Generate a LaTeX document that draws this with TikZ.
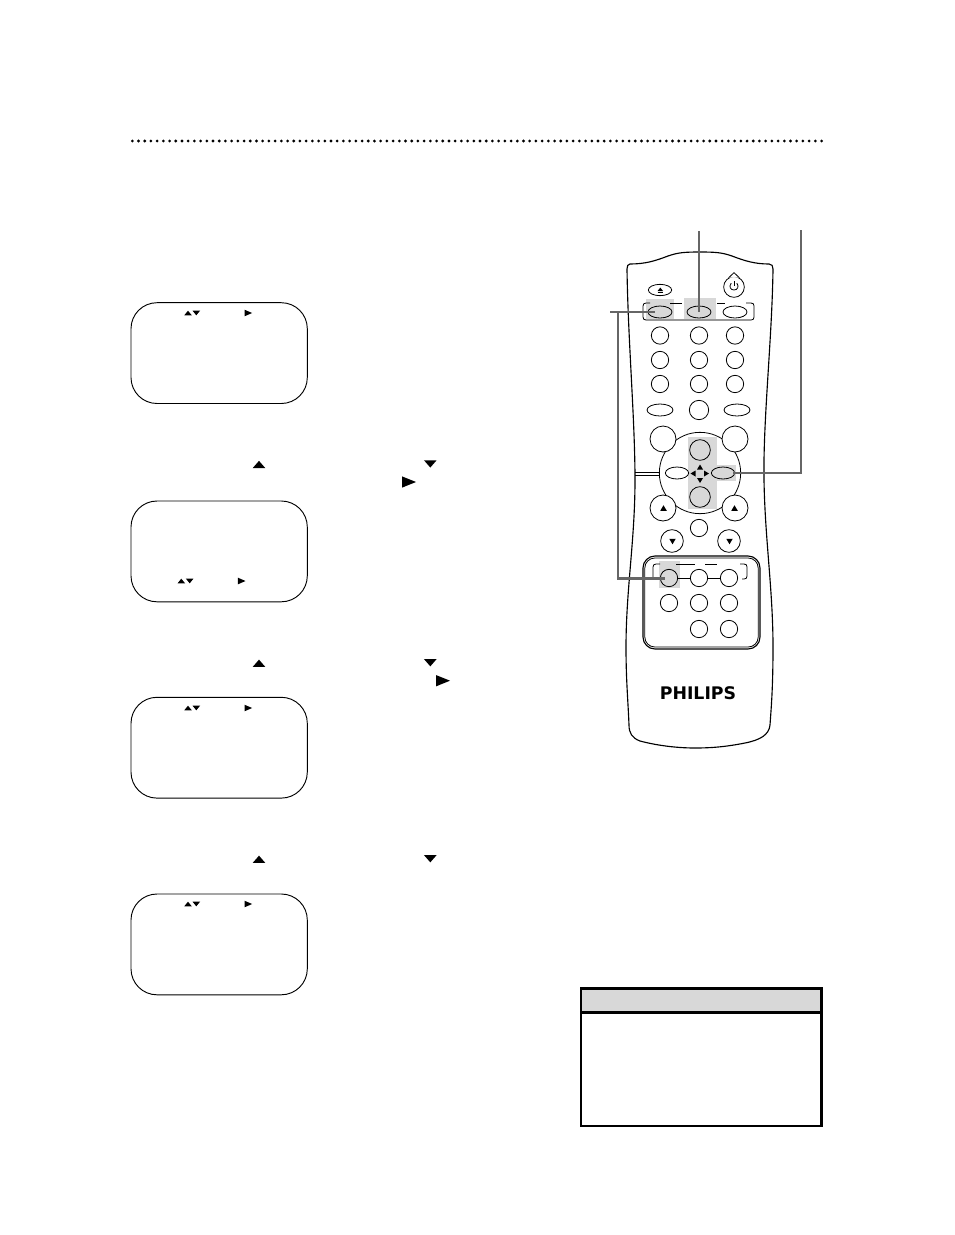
\documentclass[tikz,border=0pt]{standalone}
\usepackage{fontspec}
\usepackage{tikz}
\usetikzlibrary{shapes.geometric}
\definecolor{hilite}{HTML}{D8D8D8}
\definecolor{calloutgray}{HTML}{666666}
\newfontfamily\brandfont{DejaVu Sans}
\tikzset{
    screenbox/.style = {
        draw=black,
        line width=0.7pt,
        rounded corners=19.5pt
    },
    roundbtn/.style = {
        circle,
        draw=black,
        line width=0.6pt,
        inner sep=0pt,
        minimum size=13pt
    },
    bigbtn/.style = {
        roundbtn,
        fill=white,
        minimum size=19.5pt
    },
    midbtn/.style = {
        roundbtn,
        fill=white,
        minimum size=17pt
    },
    navbtn/.style = {
        roundbtn,
        minimum size=15.5pt
    },
    ovalbtn/.style = {
        ellipse,
        draw=black,
        line width=0.6pt,
        inner sep=0pt,
        minimum width=17.5pt,
        minimum height=9pt
    },
    remoteline/.style = {
        draw=black,
        line width=0.85pt
    },
    thinline/.style = {
        draw=black,
        line width=0.6pt
    },
    callout/.style = {
        draw=calloutgray,
        line width=2.2pt
    }
}
\newcommand{\uptri}[4]{\fill ({#1-#3/2},{#2+#4/2}) -- ({#1+#3/2},{#2+#4/2}) -- (#1,{#2-#4/2}) -- cycle;}
\newcommand{\downtri}[4]{\fill ({#1-#3/2},{#2-#4/2}) -- ({#1+#3/2},{#2-#4/2}) -- (#1,{#2+#4/2}) -- cycle;}
\newcommand{\righttri}[4]{\fill ({#1-#3/2},{#2-#4/2}) -- ({#1-#3/2},{#2+#4/2}) -- ({#1+#3/2},#2) -- cycle;}
\newcommand{\lefttri}[4]{\fill ({#1+#3/2},{#2-#4/2}) -- ({#1+#3/2},{#2+#4/2}) -- ({#1-#3/2},#2) -- cycle;}
\begin{document}
\begin{tikzpicture}[x=0.75pt,y=-0.75pt]
    \useasboundingbox (0,0) rectangle (954,1235);
    % heading rule
    \draw[line width=2.3pt, line cap=round, dash pattern=on 0pt off 4.657pt] (132.3,141) -- (822.5,141);

    % on-screen menus
    \foreach \scrtop in {302.7, 501, 697.3, 894} {
        \draw[screenbox] (131,\scrtop) rectangle (307.3,\scrtop+100.8);
    }
    \foreach \triy in {313, 708, 904} {
        \uptri{188}{\triy}{7.5}{4.6}
        \downtri{196.3}{\triy}{7.5}{4.6}
        \righttri{248.3}{\triy}{7.6}{6.6}
    }
    \uptri{181.3}{581}{7.5}{4.6}
    \downtri{189.7}{581}{7.5}{4.6}
    \righttri{241.7}{581}{7.6}{6.6}

    % arrows in the running text
    \foreach \triy in {464.5, 663.3, 859.3} {
        \uptri{259}{\triy}{12.7}{7.3}
        \downtri{430.3}{\triy-0.6}{12.7}{7.3}
    }
    \righttri{409}{482}{14}{11.3}
    \righttri{443}{680.7}{14}{11.3}

    % remote body
    \draw[remoteline, fill=white] (630,264) .. controls (645,264) and (655,261) .. (668,256)
        .. controls (678,252.5) and (685,252) .. (700,252)
        .. controls (715,252) and (722,252.5) .. (732,256)
        .. controls (745,261) and (755,264) .. (769,264)
        .. controls (772,264) and (773,266) .. (773,269)
        .. controls (772,340) and (763,420) .. (764,480)
        .. controls (765,540) and (773,590) .. (773,647)
        .. controls (773,690) and (771,710) .. (770,725)
        .. controls (769,735) and (760,740) .. (745,743)
        .. controls (725,747) and (710,748) .. (695,748)
        .. controls (675,748) and (655,745) .. (640,741)
        .. controls (632,738) and (629,733) .. (629,725)
        .. controls (628,700) and (626,680) .. (626,647)
        .. controls (626,590) and (635,540) .. (635,480)
        .. controls (635,420) and (628,340) .. (627,269)
        .. controls (627,266) and (628,264) .. (630,264) -- cycle;

    % highlights
    \fill[hilite] (646,299) rectangle (674,320);
    \fill[hilite] (684,298) rectangle (716,320);

    % eject and power
    \node[ovalbtn, minimum height=8.5pt] (ejectbtn) at (660,290) {};
    \uptri{660.3}{289.3}{5.5}{3.5}
    \draw[line width=0.7pt] (657.5,292.3) -- (663,292.3);
    \node[midbtn, minimum size=15.5pt] (powerbtn) at (734,287) {};
    \filldraw[fill=white, thinline] (powerbtn.60) -- (734,272.7) -- (powerbtn.120);
    \draw[thinline] (731.2,283.2) .. controls (728.5,286.5) and (730.5,290) .. (734,290)
        .. controls (737.5,290) and (739.5,286.5) .. (736.8,283.2);
    \draw[thinline] (734,281) -- (734,286);

    % top row bracket
    \draw[thinline] (650,303) -- (646,303) .. controls (644,303) and (643,304) .. (643,306)
        -- (643,317) .. controls (643,319) and (644,320) .. (646,320) -- (751,320)
        .. controls (753,320) and (754,319) .. (754,317) -- (754,306)
        .. controls (754,304) and (753,303) .. (751,303) -- (746,303);
    \draw[thinline] (670,303) -- (682,303);
    \draw[thinline] (717,303) -- (725,303);
    \draw[line width=0.9pt, hilite!70!black] (646,320) -- (751,320);
    \node[ovalbtn, minimum width=18pt] (menubtn) at (660,312) {};
    \node[ovalbtn, minimum width=18pt] (statusbtn) at (699,312) {};
    \node[ovalbtn, minimum width=18pt] (clearbtn) at (735,312) {};

    % number keys
    \foreach \rowy/\rowname in {335.5/a, 360/b, 384/c} {
        \foreach \colx/\colname in {660/l, 699/m, 735/r} {
            \node[roundbtn] (num\rowname\colname) at (\colx,\rowy) {};
        }
    }
    \node[ovalbtn, minimum width=19.5pt] (speedbtn) at (660,410) {};
    \node[roundbtn, minimum size=14.5pt] (zerobtn) at (699,410) {};
    \node[ovalbtn, minimum width=19.5pt] (altbtn) at (737,410) {};

    % navigation ring
    \draw[thinline] (635,472) -- (660,472);
    \draw[thinline] (635,475) -- (660,475);
    \draw[thinline] (740,472) -- (765,472);
    \node[circle, draw=black, line width=0.6pt, fill=white, minimum size=61pt, inner sep=0pt] (navring) at (700,473) {};
    \fill[hilite] (688,437) rectangle (717,509);
    \fill[hilite] (711,465) rectangle (736,480.5);
    \node[navbtn] (upbtn) at (700,450) {};
    \node[navbtn] (downbtn) at (700,497) {};
    \node[ovalbtn] (leftbtn) at (677,473) {};
    \node[ovalbtn] (rightbtn) at (723,473) {};
    \uptri{700}{467}{6}{5}
    \downtri{700}{480.5}{6}{5}
    \lefttri{693}{473.5}{5}{6}
    \righttri{706.5}{473.5}{5}{6}
    \node[bigbtn] (playbtn) at (663,439) {};
    \node[bigbtn] (stopbtn) at (735,439) {};
    \node[bigbtn] (chupbtn) at (663,508) {};
    \node[bigbtn] (volupbtn) at (735,508) {};
    \uptri{663.5}{508}{6.5}{5.5}
    \uptri{734.5}{508}{6.5}{5.5}
    \node[roundbtn] (mutebtn) at (699,528) {};
    \node[midbtn] (chdownbtn) at (672,541) {};
    \node[midbtn] (voldownbtn) at (729,541) {};
    \downtri{672.5}{541.5}{6.5}{5.5}
    \downtri{729.5}{541.5}{6.5}{5.5}

    % lower panel
    \draw[remoteline, rounded corners=9pt] (643,556) rectangle (760,649);
    \draw[thinline, rounded corners=7.5pt] (644.8,558) rectangle (758.2,647);
    \fill[hilite] (659,561) rectangle (680,588);
    \draw[thinline] (660,564) -- (656,564) .. controls (654,564) and (653,565) .. (653,567) -- (653,578);
    \draw[thinline] (676,564) -- (695,564);
    \draw[thinline] (705,564) -- (717,564);
    \draw[thinline] (740,564) -- (744,564) .. controls (746,564) and (747,565) .. (747,567)
        -- (747,576) .. controls (747,578) and (746,579) .. (744,579) -- (742,579);
    \draw[thinline] (653,578) -- (660,579);
    \foreach \rowy/\rowname/\collist in {578/a/{669/l,699/m,729/r}, 603/b/{669/l,699/m,729/r}, 629/c/{699/m,729/r}} {
        \foreach \colx/\colname in \collist {
            \node[roundbtn] (prog\rowname\colname) at (\colx,\rowy) {};
        }
    }
    \draw[thinline] (progal.east) -- (progam.west);
    \draw[thinline] (progam.east) -- (progar.west);

    \node[font=\brandfont\bfseries\fontsize{13}{14}\selectfont, inner sep=0pt] (brandname) at (698,693) {PHILIPS};

    % callouts
    \coordinate (calla) at (699,231);
    \coordinate (callb) at (801,230);
    \coordinate (callbbend) at (801,473);
    \coordinate (callbend) at (733,473);
    \coordinate (callc) at (610,312);
    \coordinate (callcbranch) at (618,312);
    \coordinate (callcbend) at (618,578.7);
    \coordinate (callcend) at (665,578.7);
    \coordinate (callctop) at (655,312);
    \draw[callout] (calla) -- (statusbtn.center);
    \draw[callout] (callb) -- (callbbend) -- (callbend);
    \draw[callout] (callc) -- (callctop);
    \draw[callout] (callcbranch) -- (callcbend) -- (callcend);

    % notice box
    \fill[hilite] (581,988.3) rectangle (821.5,1012.3);
    \draw[line width=1.9pt] (581,988.3) rectangle (821.5,1125.8);
    \draw[line width=1.9pt] (581,1012.3) -- (821.5,1012.3);
\end{tikzpicture}
\end{document}
